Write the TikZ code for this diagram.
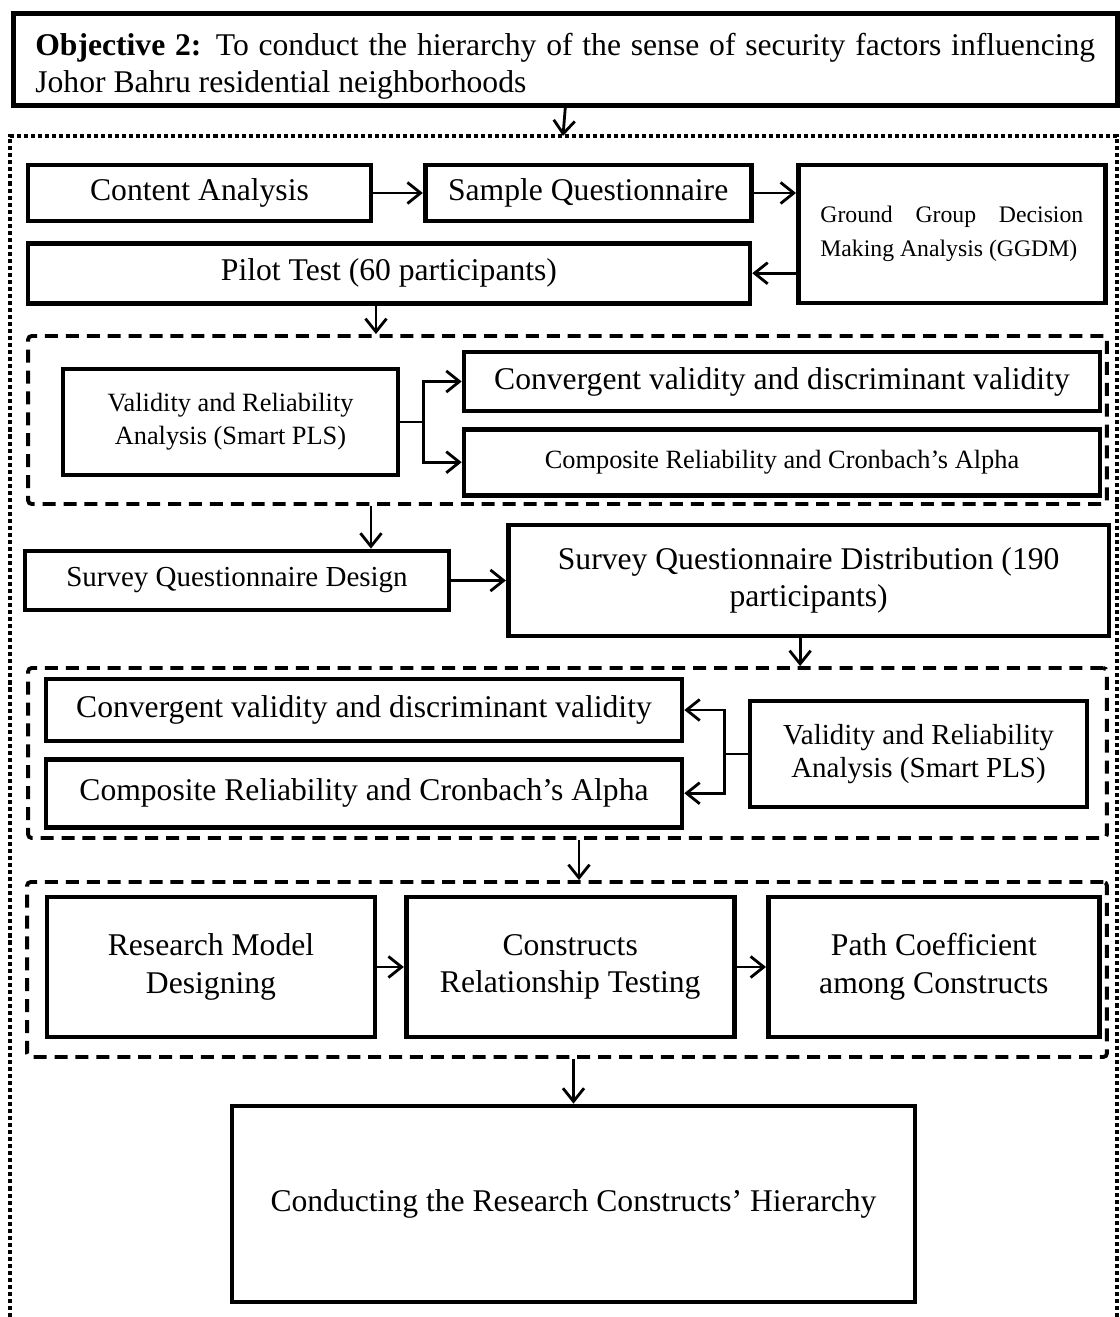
\documentclass[tikz,border=0pt]{standalone}
\usepackage{fontspec}
\setmainfont{Liberation Serif}
\usetikzlibrary{arrows.meta,positioning}

\begin{document}
\begin{tikzpicture}[x=0.02cm, y=-0.02cm,
    procbox/.style={draw, line width=2.7pt, inner sep=0pt, align=center,
      font=\fontsize{18}{21.5}\selectfont},
    smalltext/.style={font=\fontsize{15}{19}\selectfont},
    grpbox/.style={draw, line width=2.2pt, dash pattern=on 7.4pt off 4.5pt,
      rounded corners=2pt, inner sep=0pt},
    arr/.style={line width=1.6pt, -{Straight Barb[length=7.5pt,width=12pt]}},
    link/.style={line width=1.6pt}]
  \useasboundingbox (0,0) rectangle (1119,1317);

  % outer frame, open at the bottom
  \draw[line width=2.2pt, dash pattern=on 2.3pt off 1.7pt] (10,1317) |- (1117,136) -- (1117,1317);
  \coordinate (frametop) at (563,136);

  \node[procbox, anchor=north west, align=justify, text width=21.2cm,
        inner xsep=0.44cm, text height=0.84cm, text depth=1.0cm,
        font=\fontsize{18}{21}\selectfont] (obj) at (11,11)
       {\textbf{Objective 2:} To conduct the hierarchy of the sense of security factors influencing\linebreak Johor Bahru residential neighborhoods};

  % first stage
  \node[procbox, minimum width=6.86cm, minimum height=1.12cm] (content) at (199.5,193) {Content Analysis};
  \node[procbox, minimum width=6.52cm, minimum height=1.12cm, right=0.99cm of content] (sample) {Sample Questionnaire};
  \node[procbox, minimum width=6.14cm, minimum height=2.76cm, right=0.85cm of sample.north east, anchor=north west,
        align=justify, text width=5.26cm, font=\fontsize{13.5}{19}\selectfont] (ggdm)
       {Ground Group Decision\linebreak Making Analysis (GGDM)};
  \node[procbox, minimum width=14.44cm, minimum height=1.2cm, below=0.35cm of content.south west, anchor=north west] (pilot)
       {Pilot Test (60 participants)};

  % pilot analysis
  \node[grpbox, minimum width=21.58cm, minimum height=3.36cm] (grp1) at (567.5,420) {};
  \node[procbox, smalltext, minimum width=6.7cm, minimum height=2.12cm] (vr1) at (230.5,422)
       {Validity and Reliability\\Analysis (Smart PLS)};
  \node[procbox, minimum width=12.72cm, minimum height=1.18cm] (conv1) at (782,381.5)
       {Convergent validity and discriminant validity};
  \node[procbox, smalltext, minimum width=12.72cm, minimum height=1.32cm, below=0.27cm of conv1] (comp1)
       {Composite Reliability and Cronbach's Alpha};

  % survey
  \node[procbox, minimum width=8.48cm, minimum height=1.18cm, font=\fontsize{16.5}{20}\selectfont] (design) at (237,580.5)
       {Survey Questionnaire Design};
  \node[procbox, minimum width=12.02cm, minimum height=2.22cm, right=1.09cm of design] (dist)
       {Survey Questionnaire Distribution (190\\participants)};

  % survey analysis
  \node[grpbox, minimum width=21.58cm, minimum height=3.4cm] (grp2) at (567.5,753) {};
  \node[procbox, minimum width=12.72cm, minimum height=1.24cm] (conv2) at (364,710)
       {Convergent validity and discriminant validity};
  \node[procbox, minimum width=12.72cm, minimum height=1.36cm, below=0.27cm of conv2] (comp2)
       {Composite Reliability and Cronbach's Alpha};
  \node[procbox, minimum width=6.74cm, minimum height=2.12cm, font=\fontsize{16.5}{19}\selectfont] (vr2) at (918.5,754)
       {Validity and Reliability\\Analysis (Smart PLS)};

  % model
  \node[grpbox, minimum width=21.6cm, minimum height=3.5cm] (grp3) at (567,969.5) {};
  \node[procbox, minimum width=6.56cm, minimum height=2.8cm] (research) at (211,967)
       {Research Model\\Designing};
  \node[procbox, minimum width=6.56cm, minimum height=2.8cm, right=0.53cm of research] (constr)
       {Constructs\\Relationship Testing};
  \node[procbox, minimum width=6.62cm, minimum height=2.8cm, right=0.59cm of constr] (path)
       {Path Coefficient\\among Constructs};

  \node[procbox, minimum width=13.66cm, minimum height=3.92cm] (hier) at (573.5,1204)
       {Conducting the Research Constructs' Hierarchy};

  \draw[arr] (obj.south) -- (frametop);
  \draw[arr] (content) -- (sample);
  \draw[arr] (sample.east) -- (sample.east -| ggdm.west);
  \draw[arr] (pilot.east -| ggdm.west) -- (pilot.east);
  \draw[arr] ([xshift=-0.26cm]pilot.south) -- ([xshift=-0.26cm]pilot.south |- grp1.north);
  \draw[link] (vr1.east) -- ++(23,0) coordinate (fork1);
  \draw[arr] (fork1) |- (conv1.west);
  \draw[arr] (fork1) |- (comp1.west);
  \draw[arr] ([xshift=2.68cm]design.north |- grp1.south) -- ([xshift=2.68cm]design.north);
  \draw[arr] (design) -- (dist);
  \draw[arr] ([xshift=-0.17cm]dist.south) -- ([xshift=-0.17cm]dist.south |- grp2.north);
  \draw[link] (vr2.west) -- ++(-23,0) coordinate (fork2);
  \draw[arr] (fork2) |- (conv2.east);
  \draw[arr] (fork2) |- (comp2.east);
  \draw[arr] ([xshift=0.23cm]grp2.south) -- ([xshift=0.23cm]grp2.south |- grp3.north);
  \draw[arr] (research) -- (constr);
  \draw[arr] (constr) -- (path);
  \draw[arr] (grp3.south -| hier.north) -- (hier.north);
\end{tikzpicture}
\end{document}
